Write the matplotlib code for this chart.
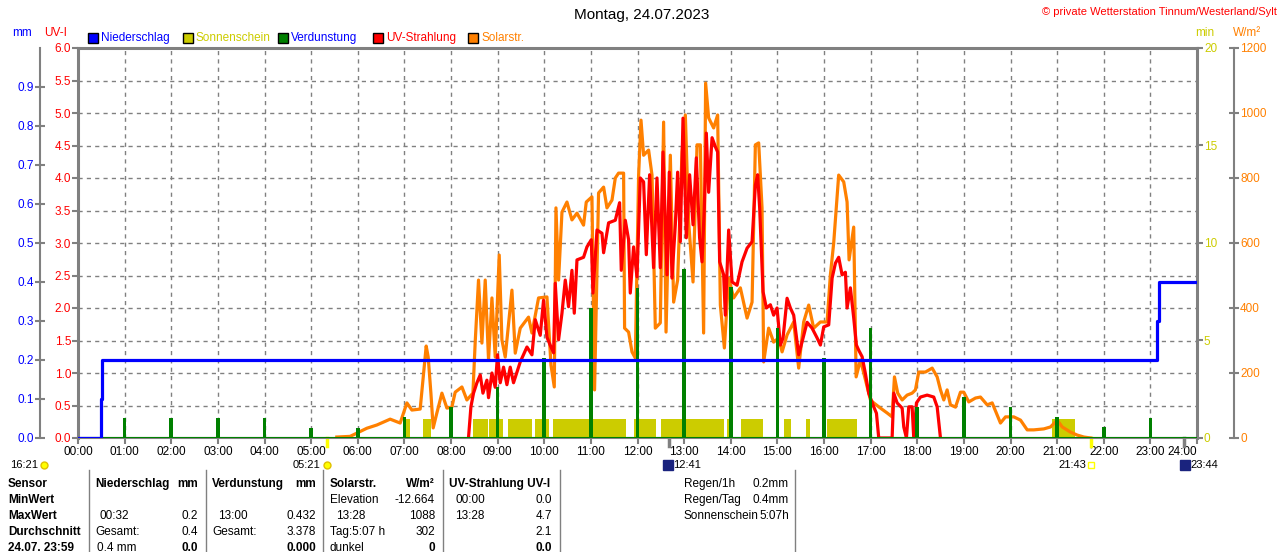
import numpy as np
import matplotlib
matplotlib.use('Agg')
import matplotlib.pyplot as plt
from matplotlib.patches import Rectangle
from matplotlib.lines import Line2D

plt.rcParams['font.family'] = ['Liberation Sans', 'DejaVu Sans']
plt.rcParams['font.size'] = 8.5

###############################################################
#   Daten (Stunden seit 00:00)
###############################################################

# Niederschlag, Summe in mm (Stufen)
regen_t = [0.0, 0.487, 0.508, 23.15, 23.18, 24.0]
regen_mm = [0.0, 0.1, 0.2, 0.3, 0.4, 0.4]

# Verdunstung je Stunde in mm
verd_t = list(range(1, 24))
verd_mm = [0.051, 0.051, 0.051, 0.051, 0.026, 0.026, 0.054, 0.079, 0.131, 0.205,
           0.333, 0.385, 0.433, 0.387, 0.282, 0.205, 0.282, 0.079, 0.105, 0.079,
           0.054, 0.028, 0.051]

# Sonnenschein (Minuten je Minute), Zeitraeume von/bis
sonne_von = [6.97, 7.40, 8.48, 8.82, 9.23, 9.81, 10.19, 11.93, 12.51, 13.91,
             14.21, 15.15, 15.62, 16.07, 20.90]
sonne_bis = [7.12, 7.58, 8.80, 9.12, 9.74, 10.11, 11.76, 12.40, 13.86, 13.97,
             14.70, 15.30, 15.71, 16.70, 21.39]
sonne_min = [1.0] * len(sonne_von)

# Solarstrahlung W/m2
solar_t = [5.551, 5.837, 6.195, 6.410, 6.695, 6.910, 7.054, 7.161, 7.339, 7.468,
           7.511, 7.569, 7.618, 7.697, 7.805, 7.912, 8.019, 8.090, 8.234, 8.341,
           8.470, 8.519, 8.590, 8.663, 8.734, 8.805, 8.878, 8.948, 9.034, 9.092,
           9.163, 9.307, 9.378, 9.485, 9.663, 9.736, 9.878, 10.058, 10.144, 10.215,
           10.251, 10.307, 10.380, 10.487, 10.594, 10.702, 10.843, 10.901, 11.023, 11.079,
           11.165, 11.273, 11.345, 11.453, 11.524, 11.594, 11.702, 11.723, 11.809, 11.882,
           11.953, 12.024, 12.075, 12.131, 12.238, 12.311, 12.382, 12.489, 12.560, 12.612,
           12.704, 12.775, 12.861, 12.955, 13.026, 13.097, 13.191, 13.277, 13.348, 13.418,
           13.461, 13.526, 13.633, 13.719, 13.777, 13.863, 13.955, 14.062, 14.206, 14.350,
           14.457, 14.528, 14.599, 14.671, 14.706, 14.813, 14.920, 15.028, 15.101, 15.208,
           15.350, 15.457, 15.564, 15.672, 15.779, 15.923, 16.066, 16.137, 16.208, 16.315,
           16.423, 16.495, 16.538, 16.637, 16.689, 16.781, 16.852, 16.996, 17.067, 17.210,
           17.354, 17.461, 17.511, 17.581, 17.676, 17.783, 17.890, 17.961, 18.032, 18.176,
           18.320, 18.427, 18.498, 18.569, 18.641, 18.712, 18.820, 18.927, 18.998, 19.105,
           19.249, 19.356, 19.500, 19.607, 19.714, 19.785, 19.893, 20.071, 20.215, 20.358,
           20.500, 20.715, 20.858, 21.002, 21.109, 21.288, 21.431, 21.573, 21.720]
solar_w = [3, 5, 30, 40, 58, 46, 108, 86, 89, 283,
           249, 138, 31, 77, 138, 92, 95, 141, 157, 117,
           138, 295, 486, 292, 486, 240, 431, 249, 563, 302,
           249, 455, 261, 338, 372, 323, 431, 434, 225, 157,
           708, 486, 695, 726, 671, 692, 655, 726, 742, 148,
           754, 772, 708, 732, 800, 815, 815, 338, 326, 265,
           246, 809, 978, 870, 886, 809, 338, 354, 972, 326,
           870, 418, 486, 880, 994, 665, 480, 902, 902, 323,
           1092, 985, 954, 994, 409, 277, 492, 431, 462, 369,
           418, 902, 908, 708, 234, 338, 295, 308, 265, 317,
           357, 215, 357, 409, 338, 357, 357, 502, 600, 809,
           788, 726, 548, 649, 188, 240, 200, 117, 108, 92,
           77, 65, 188, 138, 117, 132, 138, 148, 203, 203,
           215, 188, 148, 117, 148, 102, 95, 141, 141, 111,
           123, 126, 102, 108, 71, 46, 65, 65, 55, 25,
           25, 28, 34, 55, 34, 18, 9, 3, 0]

# UV-Strahlung UV-I
uv_t = [8.375, 8.427, 8.483, 8.556, 8.627, 8.685, 8.770, 8.805, 8.878, 8.948,
        8.998, 9.056, 9.127, 9.199, 9.270, 9.341, 9.485, 9.629, 9.736, 9.807,
        9.914, 9.985, 10.058, 10.144, 10.200, 10.236, 10.307, 10.380, 10.451, 10.521,
        10.594, 10.644, 10.702, 10.843, 10.916, 11.009, 11.045, 11.131, 11.238, 11.273,
        11.380, 11.524, 11.616, 11.652, 11.738, 11.809, 11.845, 11.916, 11.989, 12.060,
        12.131, 12.189, 12.260, 12.345, 12.418, 12.489, 12.547, 12.633, 12.682, 12.740,
        12.811, 12.861, 12.918, 12.976, 13.047, 13.118, 13.191, 13.262, 13.332, 13.384,
        13.433, 13.476, 13.526, 13.599, 13.670, 13.719, 13.762, 13.848, 13.884, 13.955,
        14.028, 14.135, 14.242, 14.350, 14.457, 14.528, 14.577, 14.620, 14.693, 14.764,
        14.850, 14.920, 14.993, 15.064, 15.122, 15.208, 15.279, 15.350, 15.457, 15.530,
        15.637, 15.744, 15.852, 15.923, 15.994, 16.101, 16.174, 16.245, 16.315, 16.388,
        16.459, 16.495, 16.566, 16.637, 16.695, 16.745, 16.818, 16.888, 16.959, 17.067,
        17.125, 17.174, 17.461, 17.496, 17.568, 17.676, 17.711, 17.768, 17.818, 17.890,
        17.925, 17.983, 18.069, 18.212, 18.354, 18.427, 18.498]
uv_i = [0.0, 0.48, 0.69, 0.85, 0.97, 0.69, 0.89, 0.62, 1.0, 0.78,
        1.28, 0.85, 1.09, 0.82, 1.09, 0.85, 1.17, 1.4, 1.28, 1.82,
        1.58, 2.12, 1.55, 1.4, 1.31, 2.38, 1.51, 1.92, 2.43, 2.02,
        2.58, 1.92, 2.74, 2.78, 2.94, 3.05, 2.23, 3.2, 3.15, 2.85,
        3.31, 3.35, 3.62, 2.58, 3.35, 3.05, 2.23, 2.94, 2.48, 4.0,
        3.94, 2.82, 4.05, 2.62, 4.0, 2.62, 4.4, 2.51, 4.09, 2.46,
        3.28, 4.09, 3.02, 4.92, 3.08, 4.05, 3.28, 4.31, 3.08, 2.71,
        3.54, 4.69, 3.78, 4.62, 4.48, 4.4, 2.71, 2.51, 1.89, 3.2,
        2.4, 2.35, 2.71, 2.92, 3.02, 3.89, 4.05, 3.54, 2.25, 2.0,
        2.05, 1.89, 2.0, 1.43, 1.54, 2.15, 2.0, 1.89, 1.28, 1.48,
        1.78, 1.69, 1.54, 1.43, 1.71, 1.74, 2.46, 2.69, 2.78, 2.51,
        2.55, 2.0, 2.31, 1.85, 1.43, 1.35, 1.25, 0.99, 0.69, 0.48,
        0.38, 0.0, 0.0, 0.69, 0.54, 0.46, 0.17, 0.0, 0.48, 0.48,
        0.0, 0.54, 0.63, 0.66, 0.63, 0.48, 0.0]

stunden = list(range(25))
stunden_txt = ['%02d:00' % h for h in stunden]
uv_ticks = [i * 0.5 for i in range(13)]
mm_ticks = [i * 0.1 for i in range(10)]
min_ticks = [0, 5, 10, 15, 20]
w_ticks = [0, 200, 400, 600, 800, 1000, 1200]

legende = [('Niederschlag', '#0000ff', '#0000ff'),
           ('Sonnenschein', '#cccc00', '#cccc00'),
           ('Verdunstung', '#008000', '#0000ff'),
           ('UV-Strahlung', '#ff0000', '#ff0000'),
           ('Solarstr.', '#ff8000', '#ff8000')]

# Tabelle unten: (x, zeile, text, fett, ausrichtung)
tabelle = [
    (8, 0, 'Sensor', True, 'left'), (8, 1, 'MinWert', True, 'left'),
    (8, 2, 'MaxWert', True, 'left'), (8, 3, 'Durchschnitt', True, 'left'),
    (8, 4, '24.07. 23:59', True, 'left'),
    (95, 0, 'Niederschlag', True, 'left'), (198, 0, 'mm', True, 'right'),
    (100, 2, '00:32', False, 'left'), (198, 2, '0.2', False, 'right'),
    (95, 3, 'Gesamt:', False, 'left'), (198, 3, '0.4', False, 'right'),
    (97, 4, '0.4 mm', False, 'left'), (198, 4, '0.0', True, 'right'),
    (212, 0, 'Verdunstung', True, 'left'), (316, 0, 'mm', True, 'right'),
    (218, 2, '13:00', False, 'left'), (316, 2, '0.432', False, 'right'),
    (212, 3, 'Gesamt:', False, 'left'), (316, 3, '3.378', False, 'right'),
    (316, 4, '0.000', True, 'right'),
    (330, 0, 'Solarstr.', True, 'left'), (435, 0, 'W/m²', True, 'right'),
    (330, 1, 'Elevation', False, 'left'), (435, 1, '-12.664', False, 'right'),
    (336, 2, '13:28', False, 'left'), (435, 2, '1088', False, 'right'),
    (330, 3, 'Tag:5:07 h', False, 'left'), (435, 3, '302', False, 'right'),
    (330, 4, 'dunkel', False, 'left'), (435, 4, '0', True, 'right'),
    (449, 0, 'UV-Strahlung UV-I', True, 'left'),
    (455, 1, '00:00', False, 'left'), (552, 1, '0.0', False, 'right'),
    (455, 2, '13:28', False, 'left'), (552, 2, '4.7', False, 'right'),
    (552, 3, '2.1', False, 'right'), (552, 4, '0.0', True, 'right'),
    (684, 0, 'Regen/1h', False, 'left'), (789, 0, '0.2mm', False, 'right'),
    (684, 1, 'Regen/Tag', False, 'left'), (789, 1, '0.4mm', False, 'right'),
    (684, 2, 'Sonnenschein', False, 'left'), (789, 2, '5:07h', False, 'right'),
]
trenner_x = [89, 206, 323, 443, 560, 795]
zeilen_y = [484, 500, 516, 532, 548]

###############################################################
#   Grafik
###############################################################
GRAU = '#808080'
BREITE, HOEHE = 1280, 552
fig = plt.figure(figsize=(12.8, 5.52), dpi=100)


def fx(x):
    return x / BREITE


def fy(y):
    return 1 - y / HOEHE


ax = fig.add_axes([fx(78), fy(438), fx(1197) - fx(78), fy(48) - fy(438)])
ax.set_xlim(0, 24)
ax.set_ylim(0, 6)
ax.set_xticks(stunden)
ax.set_xticklabels(stunden_txt)
ax.get_xticklabels()[-1].set_horizontalalignment('right')
ax.set_yticks(uv_ticks)
ax.set_yticklabels(['%.1f' % v for v in uv_ticks], color='#ff0000')
ax.tick_params(axis='x', colors=GRAU, labelcolor='black', length=4, width=1.5, pad=2)
ax.tick_params(axis='y', colors=GRAU, labelcolor='#ff0000', length=4, width=1.5, pad=1)
ax.grid(True, color=GRAU, ls=(0, (3, 3)), lw=1)
for s in ['top', 'left', 'right']:
    ax.spines[s].set_color(GRAU)
    ax.spines[s].set_linewidth(2.2)
ax.spines['bottom'].set_color(GRAU)
ax.spines['bottom'].set_linewidth(1.5)

# Sonnenschein (min)
ax_sun = ax.twinx()
ax_sun.set_ylim(0, 20)
ax_sun.set_yticks(min_ticks)
ax_sun.tick_params(axis='y', colors=GRAU, labelcolor='#cccc00', length=4, width=1.5, pad=1)
dauer = [b - a for a, b in zip(sonne_von, sonne_bis)]
ax_sun.bar(sonne_von, sonne_min, width=dauer, align='edge', color='#cccc00', lw=0)

# Solarstrahlung (W/m2)
ax_sol = ax.twinx()
ax_sol.set_ylim(0, 1200)
ax_sol.set_yticks(w_ticks)
ax_sol.spines['right'].set_position(('axes', 1.033))
ax_sol.spines['right'].set_color(GRAU)
ax_sol.spines['right'].set_linewidth(1.5)
ax_sol.tick_params(axis='y', colors=GRAU, labelcolor='#ff8000', direction='inout',
                   length=7, width=1.5, pad=1)
ax_sol.plot(solar_t, solar_w, color='#ff8000', lw=2.3)

# UV (gleiche Skala wie ax)
ax_uv = ax.twinx()
ax_uv.set_ylim(0, 6)
ax_uv.set_yticks([])
ax_uv.plot(uv_t, uv_i, color='#ff0000', lw=2.3)

# Niederschlag und Verdunstung (mm)
ax_mm = ax.twinx()
ax_mm.set_ylim(0, 1.0)
ax_mm.yaxis.set_ticks_position('left')
ax_mm.spines['left'].set_position(('axes', -0.034))
ax_mm.spines['left'].set_visible(True)
ax_mm.spines['left'].set_color(GRAU)
ax_mm.spines['left'].set_linewidth(1.5)
ax_mm.set_yticks(mm_ticks)
ax_mm.set_yticklabels(['%.1f' % v for v in mm_ticks])
ax_mm.tick_params(axis='y', colors=GRAU, labelcolor='#0000ff', direction='inout',
                  length=7, width=1.5, pad=1)
ax_mm.axhline(0, color='#008000', lw=1.5)
ax_mm.bar(verd_t, verd_mm, width=0.08, color='#008000', lw=0)
ax_mm.step(regen_t, regen_mm, where='post', color='#0000ff', lw=2.3)

for a in [ax_sun, ax_sol, ax_uv, ax_mm]:
    a.set_xlim(0, 24)
    a.patch.set_visible(False)
    for s in ['top', 'bottom']:
        a.spines[s].set_visible(False)
for a in [ax_sun, ax_uv]:
    a.spines['right'].set_visible(False)
    a.spines['left'].set_visible(False)
ax_sol.spines['left'].set_visible(False)
ax_mm.spines['right'].set_visible(False)

# Achsenbeschriftungen oben
fig.text(fx(22), fy(33), 'mm', color='#0000ff', ha='center', va='center')
fig.text(fx(56), fy(33), 'UV-I', color='#ff0000', ha='center', va='center')
fig.text(fx(1205), fy(33), 'min', color='#cccc00', ha='center', va='center')
fig.text(fx(1247), fy(33), 'W/m²', color='#ff8000', ha='center', va='center')

fig.text(fx(642), fy(15), 'Montag, 24.07.2023', ha='center', va='center', fontsize=11)
fig.text(fx(1277), fy(12), '© private Wetterstation Tinnum/Westerland/Sylt',
         ha='right', va='center', color='#ff0000', fontsize=8)

# Legende
lx = [88, 183, 278, 373, 468]
for x0, (name, farbe, tfarbe) in zip(lx, legende):
    fig.add_artist(Rectangle((fx(x0), fy(43)), fx(10), fy(33) - fy(43), transform=fig.transFigure,
                             facecolor=farbe, edgecolor='black', lw=1))
    fig.text(fx(x0 + 13), fy(38), name, color=tfarbe, ha='left', va='center')

# Sonnen- und Mondzeiten unter der Zeitachse
for t, farbe in [(5.35, '#ffff00'), (12.68, GRAU), (21.72, '#ffff00'), (23.73, GRAU)]:
    ax.plot([t, t], [0, -0.13], color=farbe, lw=2.5, clip_on=False)
zy = 465
fig.text(fx(10), fy(zy), '16:21', ha='left', va='center', fontsize=8)
fig.add_artist(Line2D([fx(44)], [fy(zy)], marker='o', ms=5, color='#ffff00',
                      mec='#e0c000', transform=fig.transFigure))
fig.text(fx(320), fy(zy), '05:21', ha='right', va='center', fontsize=8)
fig.add_artist(Line2D([fx(327)], [fy(zy)], marker='o', ms=5, color='#ffff00',
                      mec='#e0c000', transform=fig.transFigure))
fig.add_artist(Line2D([fx(668)], [fy(zy)], marker='s', ms=7, color='#1a237e',
                      transform=fig.transFigure))
fig.text(fx(673), fy(zy), '12:41', ha='left', va='center', fontsize=8)
fig.text(fx(1086), fy(zy), '21:43', ha='right', va='center', fontsize=8)
fig.add_artist(Line2D([fx(1091)], [fy(zy)], marker='s', ms=4, color='white',
                      mec='#ffff00', transform=fig.transFigure))
fig.add_artist(Line2D([fx(1185)], [fy(zy)], marker='s', ms=7, color='#1a237e',
                      transform=fig.transFigure))
fig.text(fx(1190), fy(zy), '23:44', ha='left', va='center', fontsize=8)

# Tabelle
for x in trenner_x:
    fig.add_artist(Line2D([fx(x), fx(x)], [fy(470), fy(552)], color=GRAU, lw=1,
                          transform=fig.transFigure))
for x, z, txt, fett, ha in tabelle:
    fig.text(fx(x), fy(zeilen_y[z]), txt, ha=ha, va='center',
             fontweight='bold' if fett else 'normal')

fig.savefig('out.png', dpi=100)
